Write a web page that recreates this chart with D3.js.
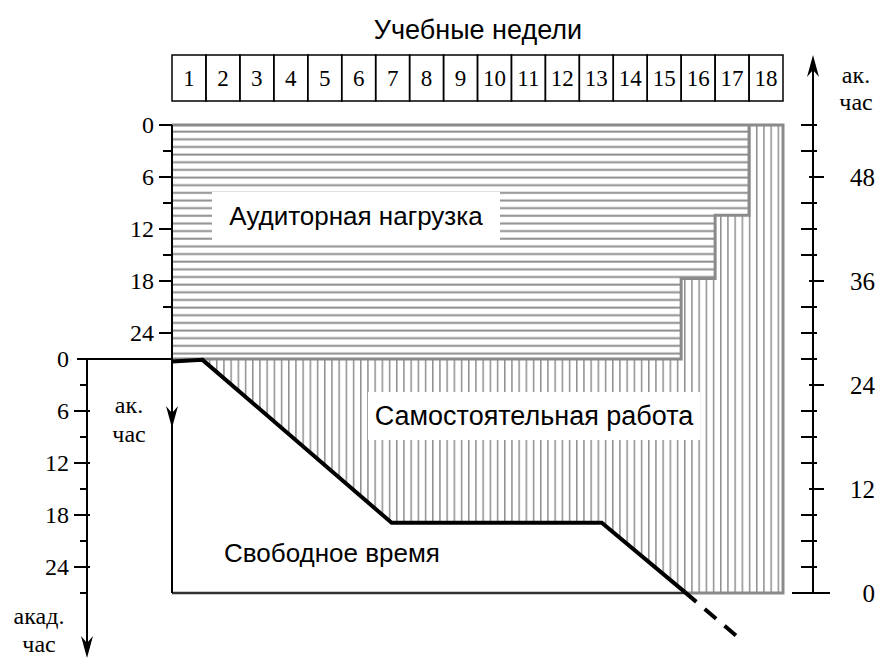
<!DOCTYPE html>
<html>
<head>
<meta charset="utf-8">
<script src="https://cdn.jsdelivr.net/npm/d3@7/dist/d3.min.js"></script>
<style>
  body { margin: 0; background: #fff; }
  svg { display: block; }
  .serif { font-family: "Liberation Serif", "Times New Roman", serif; }
  .sans { font-family: "Liberation Sans", Arial, sans-serif; }
</style>
</head>
<body>
<div id="chart"></div>
<script>
// ---- data ----
const weeks = d3.range(1, 19);
// аудиторная нагрузка по неделям, ак. час (отсчёт сверху, верхняя левая ось)
const auditoryHours = [27, 27, 27, 27, 27, 27, 27, 27, 27, 27, 27, 27, 27, 27, 27, 17.7, 10.4, 0];
// граница свободного времени (нижняя левая ось, ак. час)
const freeWeek = [0, 0.9, 6.47, 12.66, 15.11];
const freeHours = [0.3, 0.1, 18.9, 18.9, 26.9];
// продолжение пунктиром
const freeDashWeek = [15.11, 16.73];
const freeDashHours = [26.9, 32.3];

const totalHours = 54;
const halfHours = 27;
const rightTicks = d3.range(0, 55, 3);
const rightLabels = [0, 12, 24, 36, 48];
const upperTicks = d3.range(0, 27, 3);
const upperLabels = [0, 6, 12, 18, 24];
const lowerTicks = d3.range(3, 28, 3);
const lowerLabels = [0, 6, 12, 18, 24];

// ---- scales ----
const width = 893;
const height = 661;

const x = d3.scaleLinear().domain([0, 18]).range([172, 783]);
// правая ось: 0..54 ак. час
const y = d3.scaleLinear().domain([0, totalHours]).range([593, 125]);
const yUpper = d3.scaleLinear().domain([0, halfHours]).range([y(totalHours), y(halfHours)]);
const yLower = d3.scaleLinear().domain([0, halfHours]).range([y(halfHours), y(0)]);

const svg = d3
  .select("#chart")
  .append("svg")
  .attr("width", width)
  .attr("height", height);

const defs = svg.append("defs");

// hatch patterns
const hStep = 7.65;
defs
  .append("pattern")
  .attr("id", "hatchH")
  .attr("patternUnits", "userSpaceOnUse")
  .attr("width", 20)
  .attr("height", hStep)
  .append("line")
  .attr("x1", 0)
  .attr("x2", 20)
  .attr("y1", 1.6)
  .attr("y2", 1.6)
  .attr("stroke", "#8e8e8e")
  .attr("stroke-width", 2);

const vStep = 7.2;
defs
  .append("pattern")
  .attr("id", "hatchV")
  .attr("patternUnits", "userSpaceOnUse")
  .attr("width", vStep)
  .attr("height", 20)
  .append("line")
  .attr("x1", 6.7 - vStep + 1)
  .attr("x2", 6.7 - vStep + 1)
  .attr("y1", 0)
  .attr("y2", 20)
  .attr("stroke", "#8e8e8e")
  .attr("stroke-width", 2);

// ---- regions ----
// step boundary between auditory and self-study (in right-axis units)
const stepPts = [];
auditoryHours.forEach((h, i) => {
  stepPts.push([i, totalHours - h]);
  stepPts.push([i + 1, totalHours - h]);
});

const freeBase = freeWeek.map((w, i) => [w, halfHours - freeHours[i]]);

const poly = d3.line().x((d) => x(d[0])).y((d) => y(d[1]));

// аудиторная нагрузка
svg
  .append("path")
  .attr("d", poly([[0, totalHours], ...stepPts, [18, totalHours]]) + "Z")
  .attr("fill", "url(#hatchH)");

// самостоятельная работа
svg
  .append("path")
  .attr(
    "d",
    poly([...stepPts, [18, 0], [freeWeek[freeWeek.length - 1], 0], ...freeBase.slice().reverse()]) + "Z"
  )
  .attr("fill", "url(#hatchV)");

// gray borders
const gray = "#8a8a8a";
svg
  .append("path")
  .attr("d", poly(stepPts.filter((d) => d[1] < totalHours || d[0] <= 17)))
  .attr("fill", "none")
  .attr("stroke", gray)
  .attr("stroke-width", 3);

svg
  .append("path")
  .attr("d", poly([[0, totalHours], [18, totalHours], [18, 0], [freeWeek[freeWeek.length - 1], 0]]))
  .attr("fill", "none")
  .attr("stroke", gray)
  .attr("stroke-width", 3);

// label boxes
const boxes = [
  { text: "Аудиторная нагрузка", x0: 212, x1: 500, y0: 192, y1: 240, size: 26 },
  { text: "Самостоятельная работа", x0: 368, x1: 700, y0: 392, y1: 440, size: 27 },
];
boxes.forEach((b) => {
  svg
    .append("rect")
    .attr("x", b.x0)
    .attr("y", b.y0)
    .attr("width", b.x1 - b.x0)
    .attr("height", b.y1 - b.y0)
    .attr("fill", "#fff");
  svg
    .append("text")
    .attr("class", "sans")
    .attr("x", (b.x0 + b.x1) / 2)
    .attr("y", (b.y0 + b.y1) / 2)
    .attr("dy", "0.35em")
    .attr("text-anchor", "middle")
    .attr("font-size", b.size)
    .text(b.text);
});

svg
  .append("text")
  .attr("class", "sans")
  .attr("x", 224)
  .attr("y", 553)
  .attr("dy", "0.35em")
  .attr("font-size", 26)
  .text("Свободное время");

// ---- free time box ----
svg
  .append("line")
  .attr("x1", x(0))
  .attr("x2", x(freeWeek[freeWeek.length - 1]))
  .attr("y1", y(0))
  .attr("y2", y(0))
  .attr("stroke", "#333")
  .attr("stroke-width", 2.5);

// inner vertical axis (x = week 0)
svg
  .append("line")
  .attr("x1", x(0))
  .attr("x2", x(0))
  .attr("y1", y(totalHours))
  .attr("y2", y(0))
  .attr("stroke", "#000")
  .attr("stroke-width", 2);

// free time boundary
svg
  .append("path")
  .attr("d", d3.line().x((d) => x(d)).y((d, i) => yLower(freeHours[i]))(freeWeek))
  .attr("fill", "none")
  .attr("stroke", "#000")
  .attr("stroke-width", 4)
  .attr("stroke-linejoin", "miter");

svg
  .append("path")
  .attr("d", d3.line().x((d) => x(d)).y((d, i) => yLower(freeDashHours[i]))(freeDashWeek))
  .attr("fill", "none")
  .attr("stroke", "#000")
  .attr("stroke-width", 4)
  .attr("stroke-dasharray", "15 11");

// ---- arrows ----
function arrowHead(cx, tip, dir) {
  // dir = 1 pointing down, -1 pointing up
  const len = 22, half = 6, notch = 7;
  const path = d3.path();
  path.moveTo(cx, tip);
  path.lineTo(cx - half, tip - dir * len);
  path.lineTo(cx, tip - dir * (len - notch));
  path.lineTo(cx + half, tip - dir * len);
  path.closePath();
  svg.append("path").attr("d", path.toString()).attr("fill", "#000");
}

arrowHead(x(0), 428, 1);

// ---- upper left axis ----
const upperAxis = svg.append("g");
upperAxis
  .selectAll("line")
  .data(upperTicks)
  .join("line")
  .attr("x1", (d) => (upperLabels.includes(d) ? x(0) - 13 : x(0) - 9))
  .attr("x2", x(0))
  .attr("y1", (d) => yUpper(d))
  .attr("y2", (d) => yUpper(d))
  .attr("stroke", "#000")
  .attr("stroke-width", 2);
upperAxis
  .selectAll("text")
  .data(upperLabels)
  .join("text")
  .attr("class", "serif")
  .attr("x", 154)
  .attr("y", (d) => yUpper(d))
  .attr("dy", "0.35em")
  .attr("text-anchor", "end")
  .attr("font-size", 24)
  .text((d) => d);

// ---- lower left axis ----
const lowX = 87;
svg
  .append("line")
  .attr("x1", 77)
  .attr("x2", x(0))
  .attr("y1", yLower(0))
  .attr("y2", yLower(0))
  .attr("stroke", "#000")
  .attr("stroke-width", 2);
svg
  .append("line")
  .attr("x1", lowX)
  .attr("x2", lowX)
  .attr("y1", yLower(0))
  .attr("y2", 652)
  .attr("stroke", "#000")
  .attr("stroke-width", 2);
arrowHead(lowX, 658, 1);

const lowerAxis = svg.append("g");
lowerAxis
  .selectAll("line")
  .data(lowerTicks)
  .join("line")
  .attr("x1", (d) => (lowerLabels.includes(d) ? lowX - 13 : lowX - 7))
  .attr("x2", (d) => (lowerLabels.includes(d) ? lowX + 3 : lowX))
  .attr("y1", (d) => yLower(d))
  .attr("y2", (d) => yLower(d))
  .attr("stroke", "#000")
  .attr("stroke-width", 2);
lowerAxis
  .selectAll("text")
  .data(lowerLabels)
  .join("text")
  .attr("class", "serif")
  .attr("x", 69)
  .attr("y", (d) => yLower(d))
  .attr("dy", "0.35em")
  .attr("text-anchor", "end")
  .attr("font-size", 24)
  .text((d) => d);

// ---- right axis ----
const rX = 813;
svg
  .append("line")
  .attr("x1", rX)
  .attr("x2", rX)
  .attr("y1", y(0))
  .attr("y2", 60)
  .attr("stroke", "#000")
  .attr("stroke-width", 2);
arrowHead(rX, 55, -1);

const rightAxis = svg.append("g");
rightAxis
  .selectAll("line")
  .data(rightTicks)
  .join("line")
  .attr("x1", (d) => (d === 0 ? rX - 21 : rightLabels.includes(d) ? rX - 4 : rX - 12))
  .attr("x2", (d) => (d === 0 ? rX + 17 : rightLabels.includes(d) ? rX + 11 : rX + 4))
  .attr("y1", (d) => y(d))
  .attr("y2", (d) => y(d))
  .attr("stroke", "#000")
  .attr("stroke-width", 2);
rightAxis
  .selectAll("text")
  .data(rightLabels)
  .join("text")
  .attr("class", "serif")
  .attr("x", 875)
  .attr("y", (d) => y(d))
  .attr("dy", "0.35em")
  .attr("text-anchor", "end")
  .attr("font-size", 25)
  .text((d) => d);

// axis unit labels
const unitLabels = [
  { lines: ["ак.", "час"], cx: 856, y0: 75, gap: 27 },
  { lines: ["ак.", "час"], cx: 129, y0: 405, gap: 29 },
  { lines: ["акад.", "час"], cx: 39, y0: 616, gap: 28 },
];
unitLabels.forEach((u) => {
  u.lines.forEach((t, i) => {
    svg
      .append("text")
      .attr("class", "serif")
      .attr("x", u.cx)
      .attr("y", u.y0 + i * u.gap)
      .attr("dy", "0.35em")
      .attr("text-anchor", "middle")
      .attr("font-size", 24)
      .text(t);
  });
});

// ---- week boxes ----
const weekBoxes = svg.append("g");
weekBoxes
  .selectAll("rect")
  .data(weeks)
  .join("rect")
  .attr("x", (d) => x(d - 1))
  .attr("y", 55)
  .attr("width", (d) => x(d) - x(d - 1))
  .attr("height", 46)
  .attr("fill", "none")
  .attr("stroke", "#000")
  .attr("stroke-width", 1.5);
weekBoxes
  .selectAll("text")
  .data(weeks)
  .join("text")
  .attr("class", "serif")
  .attr("x", (d) => (x(d - 1) + x(d)) / 2)
  .attr("y", 78)
  .attr("dy", "0.35em")
  .attr("text-anchor", "middle")
  .attr("font-size", 23)
  .text((d) => d);

svg
  .append("text")
  .attr("class", "sans")
  .attr("x", 478)
  .attr("y", 30)
  .attr("dy", "0.35em")
  .attr("text-anchor", "middle")
  .attr("font-size", 27)
  .text("Учебные недели");
</script>
</body>
</html>
